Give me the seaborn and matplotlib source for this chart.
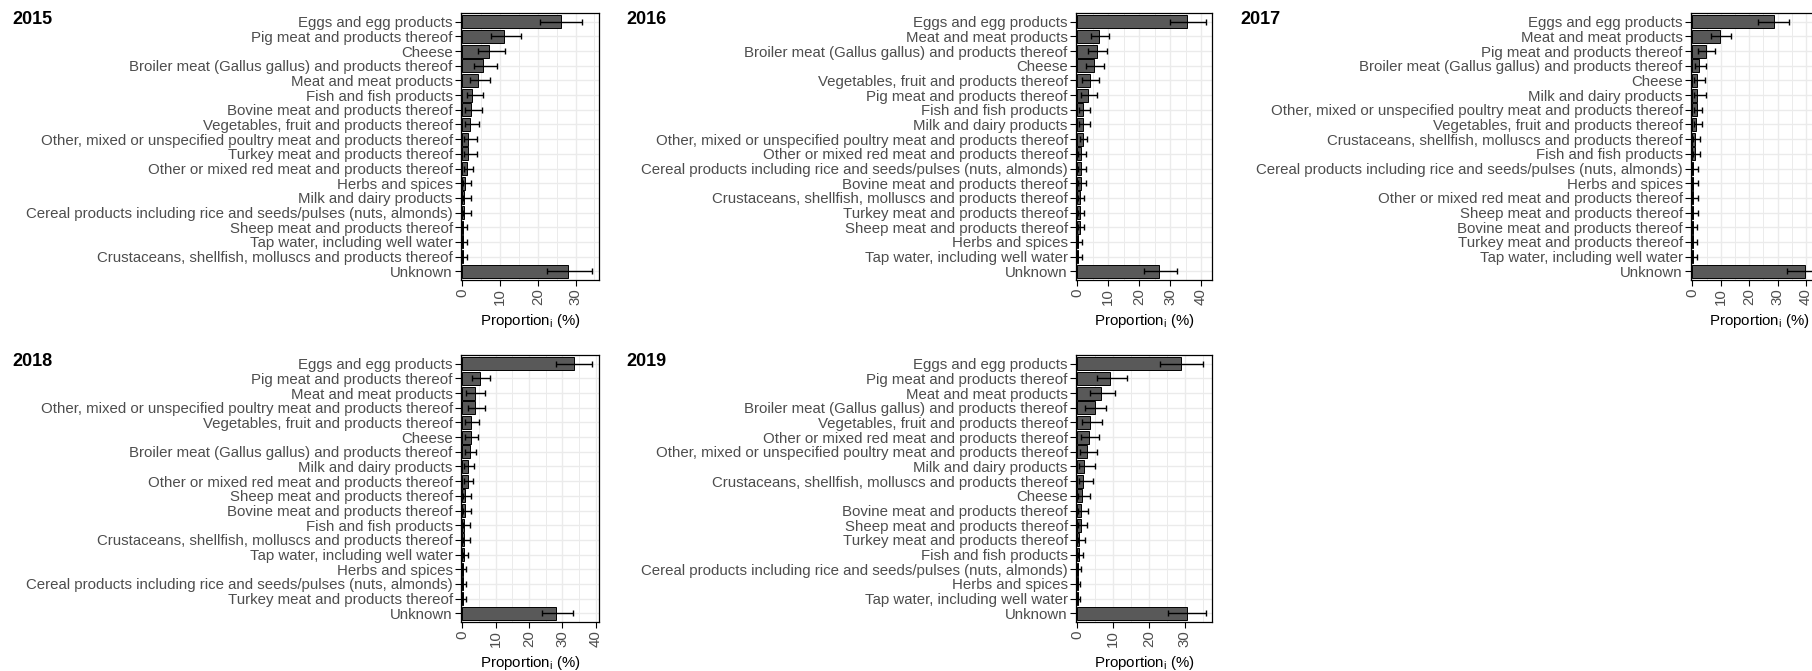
import numpy as np
import pandas as pd
import matplotlib
matplotlib.use("Agg")
import matplotlib.pyplot as plt
from matplotlib.ticker import MultipleLocator
import seaborn as sns

# ---------------- data ----------------
EGG = "Eggs and egg products"
PIG = "Pig meat and products thereof"
CHE = "Cheese"
BRO = "Broiler meat (Gallus gallus) and products thereof"
MEA = "Meat and meat products"
FIS = "Fish and fish products"
BOV = "Bovine meat and products thereof"
VEG = "Vegetables, fruit and products thereof"
POU = "Other, mixed or unspecified poultry meat and products thereof"
TUR = "Turkey meat and products thereof"
RED = "Other or mixed red meat and products thereof"
HER = "Herbs and spices"
MIL = "Milk and dairy products"
CER = "Cereal products including rice and seeds/pulses (nuts, almonds)"
SHE = "Sheep meat and products thereof"
TAP = "Tap water, including well water"
CRU = "Crustaceans, shellfish, molluscs and products thereof"
UNK = "Unknown"

cats_2015 = [EGG, PIG, CHE, BRO, MEA, FIS, BOV, VEG, POU, TUR, RED, HER, MIL, CER, SHE, TAP, CRU, UNK]
mean_2015 = [26.2, 11.1, 7.1, 5.5, 4.2, 2.6, 2.4, 2.0, 1.5, 1.5, 1.2, 0.8, 0.45, 0.45, 0.15, 0.15, 0.15, 28.1]
lo_2015 = [20.7, 7.5, 4.2, 3.0, 2.0, 1.1, 0.8, 0.6, 0.4, 0.4, 0.4, 0.2, 0.1, 0.1, 0.0, 0.0, 0.0, 22.5]
hi_2015 = [31.8, 15.5, 11.3, 9.1, 7.3, 5.5, 5.1, 4.4, 4.0, 4.0, 2.9, 2.4, 2.4, 2.4, 1.3, 1.3, 1.3, 34.5]

cats_2016 = [EGG, MEA, BRO, CHE, VEG, PIG, FIS, MIL, POU, RED, CER, BOV, CRU, TUR, SHE, HER, TAP, UNK]
mean_2016 = [35.6, 6.9, 6.4, 5.5, 4.0, 3.4, 1.8, 1.8, 1.8, 1.3, 1.3, 1.3, 0.85, 0.85, 0.85, 0.3, 0.3, 26.4]
lo_2016 = [30.1, 4.3, 3.5, 2.7, 1.6, 1.1, 0.5, 0.5, 0.9, 0.2, 0.2, 0.2, 0.1, 0.1, 0.1, 0.0, 0.0, 21.6]
hi_2016 = [41.5, 10.4, 9.6, 8.7, 7.1, 6.2, 4.0, 4.0, 3.2, 2.7, 2.7, 2.7, 2.1, 2.1, 2.1, 1.6, 1.6, 32.1]

cats_2017 = [EGG, MEA, PIG, BRO, CHE, MIL, POU, VEG, CRU, FIS, CER, HER, RED, SHE, BOV, TUR, TAP, UNK]
mean_2017 = [28.6, 9.6, 4.9, 2.4, 1.8, 1.8, 1.8, 1.4, 0.8, 0.8, 0.25, 0.25, 0.25, 0.25, 0.1, 0.1, 0.1, 39.5]
lo_2017 = [23.0, 6.5, 2.1, 0.9, 0.6, 0.6, 0.6, 0.5, 0.2, 0.2, 0.0, 0.0, 0.0, 0.0, 0.0, 0.0, 0.0, 33.5]
hi_2017 = [34.0, 13.5, 8.0, 4.9, 4.5, 4.7, 3.5, 3.5, 2.6, 2.6, 1.9, 1.9, 1.9, 1.9, 1.5, 1.5, 1.5, 45.5]

cats_2018 = [EGG, PIG, MEA, POU, VEG, CHE, BRO, MIL, RED, SHE, BOV, FIS, CRU, TAP, HER, CER, TUR, UNK]
mean_2018 = [33.5, 5.4, 3.8, 3.8, 2.6, 2.6, 2.2, 1.6, 1.6, 0.9, 0.9, 0.5, 0.5, 0.5, 0.1, 0.1, 0.1, 28.1]
lo_2018 = [28.0, 2.8, 1.2, 1.8, 0.7, 0.7, 0.7, 0.4, 0.4, 0.2, 0.2, 0.1, 0.1, 0.1, 0.0, 0.0, 0.0, 23.9]
hi_2018 = [39.0, 8.2, 6.7, 6.7, 5.0, 4.7, 4.1, 3.6, 3.3, 2.6, 2.6, 2.2, 2.2, 1.6, 1.2, 1.0, 1.2, 33.3]

cats_2019 = [EGG, PIG, MEA, BRO, VEG, RED, POU, MIL, CRU, CHE, BOV, SHE, TUR, FIS, CER, HER, TAP, UNK]
mean_2019 = [29.0, 9.0, 6.5, 4.8, 3.5, 3.2, 2.6, 1.9, 1.6, 1.3, 1.0, 1.0, 0.6, 0.4, 0.2, 0.15, 0.15, 30.6]
lo_2019 = [23.0, 5.5, 3.5, 2.2, 1.3, 1.1, 0.8, 0.5, 0.4, 0.3, 0.2, 0.2, 0.1, 0.1, 0.0, 0.0, 0.0, 25.2]
hi_2019 = [35.0, 13.9, 10.6, 8.0, 7.0, 6.0, 5.5, 5.0, 4.5, 3.5, 3.0, 2.7, 2.0, 1.6, 1.0, 0.8, 0.8, 35.8]

years = ["2015", "2016", "2017", "2018", "2019"]

# ---------------- style ----------------
sns.set_theme(style="white")
plt.rcParams["font.family"] = ["Liberation Sans", "DejaVu Sans"]
plt.rcParams["mathtext.fontset"] = "custom"
plt.rcParams["mathtext.rm"] = "Liberation Sans"

W, H = 1812, 671
fig = plt.figure(figsize=(W / 100, H / 100), dpi=100)
fig.patch.set_facecolor("white")

# panel boxes in pixels: (left, top, right, bottom)
boxes = {
    "2015": (461, 13, 599, 280),
    "2016": (1076, 13, 1212, 280),
    "2017": (1691, 13, 1828, 280),
    "2018": (461, 355, 599, 622),
    "2019": (1076, 355, 1212, 622),
}
title_pos = {
    "2015": (12, 20),
    "2016": (626, 20),
    "2017": (1240, 20),
    "2018": (12, 361),
    "2019": (626, 361),
}
data = {
    "2015": (cats_2015, mean_2015, lo_2015, hi_2015),
    "2016": (cats_2016, mean_2016, lo_2016, hi_2016),
    "2017": (cats_2017, mean_2017, lo_2017, hi_2017),
    "2018": (cats_2018, mean_2018, lo_2018, hi_2018),
    "2019": (cats_2019, mean_2019, lo_2019, hi_2019),
}

for yr in years:
    cats, mean, lo, hi = data[yr]
    x0, y0, x1, y1 = boxes[yr]
    ax = fig.add_axes([x0 / W, 1 - y1 / H, (x1 - x0) / W, (y1 - y0) / H])
    df = pd.DataFrame({"cat": cats, "val": mean, "lo": lo, "hi": hi})
    ax.set_axisbelow(True)
    sns.barplot(data=df, x="val", y="cat", order=cats, color="#595959",
                saturation=1, edgecolor="black", linewidth=0.7, width=0.9,
                errorbar=None, ax=ax)
    ypos = np.arange(len(cats))
    ax.errorbar(df["val"], ypos,
                xerr=[df["val"] - df["lo"], df["hi"] - df["val"]],
                fmt="none", ecolor="black", elinewidth=1.0, capsize=2.2,
                capthick=1.0, zorder=4)
    xmax = max(hi) * 1.05
    ax.set_xlim(-0.01 * xmax, xmax)
    ax.set_ylim(len(cats) - 0.4, -0.6)
    ax.xaxis.set_major_locator(MultipleLocator(10))
    ax.xaxis.set_minor_locator(MultipleLocator(5))
    ax.grid(which="major", axis="both", color="#EBEBEB", linewidth=1.0)
    ax.grid(which="minor", axis="x", color="#EBEBEB", linewidth=0.7)
    ax.set_facecolor("white")
    for s in ax.spines.values():
        s.set_visible(True)
        s.set_color("black")
        s.set_linewidth(0.9)
    ax.tick_params(axis="both", which="major", length=4, width=0.8,
                   color="black", labelcolor="#4D4D4D", labelsize=10.8,
                   pad=2, left=True, bottom=True)
    ax.tick_params(axis="both", which="minor", length=0)
    ax.tick_params(axis="x", labelrotation=90)
    ax.set_ylabel("")
    ax.set_xlabel("Proportion$_\\mathregular{i}$ (%)", fontsize=10.8,
                  color="black", labelpad=5)
    tx, ty = title_pos[yr]
    fig.text(tx / W, 1 - ty / H, yr, fontsize=13, fontweight="bold",
             ha="left", va="center", color="black")

fig.savefig("out.png", dpi=100, facecolor="white")
